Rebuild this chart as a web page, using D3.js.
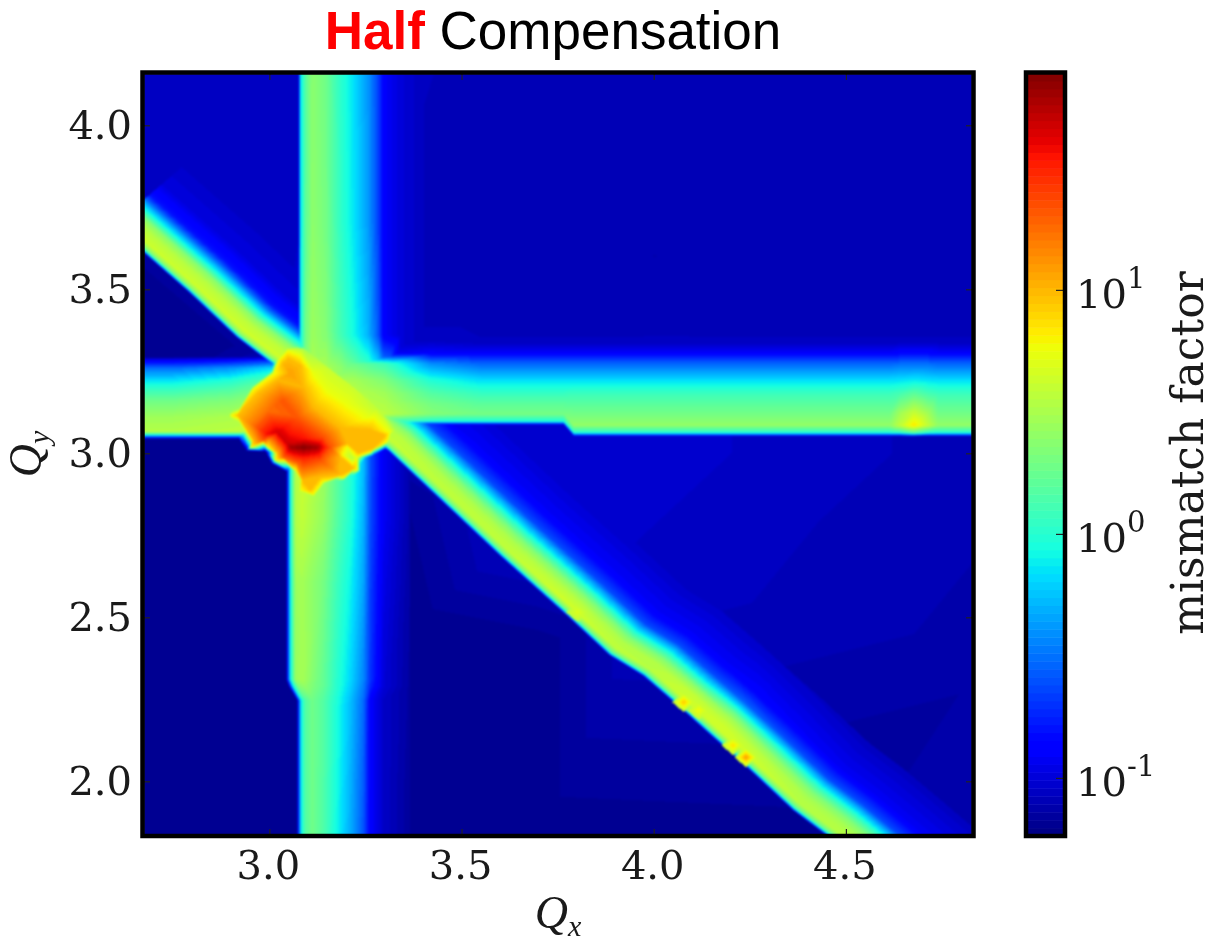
<!DOCTYPE html>
<html><head><meta charset="utf-8">
<style>
html,body{margin:0;padding:0;background:#fff;width:1208px;height:944px;overflow:hidden}
#wrap{position:relative;width:1208px;height:944px}
canvas{position:absolute;left:143px;top:73px;filter:blur(1px)}
svg{position:absolute;left:0;top:0}
</style>
<script src="https://cdn.jsdelivr.net/npm/d3@7/dist/d3.min.js"></script>
</head><body><div id="wrap"><canvas id="field" width="830" height="763"></canvas><svg id="chart" width="1208" height="944"></svg></div>
<script>
// ---------- tick labels and text ----------
const titleParts = ["Half", " Compensation"];
const xTicks = [3.0, 3.5, 4.0, 4.5];
const yTicks = [2.0, 2.5, 3.0, 3.5, 4.0];
const cbTicks = [0.1, 1, 10];
const cbExponents = ["-1", "0", "1"];
const cbLabel = "mismatch factor";
const mismatchRange = [0.0578, 77.4];
const levelCount = 96;

// ---------- mismatch factor ----------
// background scan points: [Qx, Qy, mismatch]
const backgroundPoints = [
[2.6,1.8,.063],[3.0,1.8,.063],[3.3,1.8,.064],[3.7,1.8,.063],[4.43,1.8,.064],
[2.6,2.5,.063],[3.0,2.5,.063],[3.4,2.5,.065],[3.7,2.4,.063],
[2.6,3.03,.064],[3.0,3.0,.064],[3.32,2.9,.065],[2.6,3.55,.063],[2.9,3.25,.063],
[2.6,3.85,.09],[2.6,4.2,.086],[3.05,4.2,.088],[3.05,3.5,.086],[2.85,3.7,.084],
[3.45,4.2,.084],[4.0,4.2,.08],[4.9,4.2,.082],[4.0,3.6,.078],[3.45,3.4,.082],[4.9,3.5,.08],
[3.45,3.0,.098],[4.0,3.0,.094],[4.9,3.0,.08],[4.0,2.6,.088],[4.9,2.4,.075],[4.6,1.8,.078],[4.9,1.8,.072],[3.7,2.8,.096]
];

// vertical band above the crossing
const upperStations = [4.2, 3.7, 3.36, 3.26, 3.1];
const upperKnots = [3.00,3.0755,3.081,3.094,3.112,3.146,3.185,3.224,3.258,3.284,3.297,3.341,3.419];
const upperValues = [
[.085,.09,.7,1.5,2.4,1.9,1.05,.65,.4,.22,.13,.1,.08],
[.085,.09,.72,1.6,2.5,2.0,1.1,.68,.42,.22,.13,.1,.08],
[.085,.095,.8,1.9,2.8,2.3,1.3,.8,.5,.25,.13,.1,.08],
[.085,.1,1.0,2.2,3.2,3.2,2.5,1.7,1.2,.7,.4,.1,.08],
[.085,.1,1.0,2.2,3.6,4.0,3.8,3.4,3.0,2.6,2.2,.1,.08]
];

// vertical band below the crossing
const lowerStations = [3.02, 2.8, 2.6, 2.31, 2.29, 2.247, 2.0, 1.8];
const lowerKnots = [
[2.98,3.044,3.048,3.055,3.068,3.085,3.141,3.177,3.211,3.245,3.263,3.297,3.367],
[2.98,3.044,3.048,3.055,3.068,3.085,3.141,3.177,3.211,3.245,3.263,3.297,3.367],
[2.98,3.044,3.048,3.055,3.068,3.085,3.141,3.177,3.211,3.245,3.263,3.297,3.367],
[2.98,3.044,3.048,3.055,3.068,3.085,3.141,3.177,3.211,3.245,3.263,3.297,3.367],
[2.98,3.050,3.055,3.062,3.075,3.092,3.141,3.177,3.211,3.245,3.263,3.297,3.367],
[2.98,3.072,3.076,3.083,3.094,3.112,3.141,3.177,3.211,3.245,3.263,3.297,3.367],
[2.98,3.072,3.076,3.083,3.094,3.112,3.141,3.177,3.211,3.245,3.263,3.297,3.367],
[2.98,3.072,3.076,3.083,3.094,3.112,3.141,3.177,3.211,3.245,3.263,3.297,3.367]
];
const lowerValues = [
[.06,.06,.2,.9,3.4,4.2,2.8,1.6,1,.55,.25,.12,.075],
[.06,.06,.2,.9,3.3,3.9,2.6,1.5,.95,.5,.24,.12,.075],
[.06,.06,.2,.85,2.8,3,2.0,1.2,.8,.45,.22,.11,.072],
[.06,.06,.2,.8,2.7,3.1,1.7,1.0,.65,.36,.2,.1,.07],
[.06,.06,.2,.8,2.2,2.6,1.7,1.0,.62,.34,.18,.1,.07],
[.06,.06,.2,.8,1.5,1.9,1.5,.9,.55,.3,.13,.09,.07],
[.06,.06,.2,.8,1.5,1.9,1.45,.85,.5,.27,.13,.09,.068],
[.06,.06,.2,.8,1.5,1.9,1.4,.8,.48,.25,.13,.09,.068]
];

// horizontal band, left of the crossing
const leftStations = [2.6, 2.75, 2.9, 3.02, 3.1];
const leftKnots = [3.40,3.295,3.284,3.26,3.223,3.192,3.16,3.11,3.066,3.056,3.05,3.043];
const leftValues = [
[.06,.06,.12,.3,.7,1.2,1.9,2.9,3.4,.9,.25,.06],
[.06,.06,.12,.3,.7,1.2,1.9,2.9,3.4,.9,.25,.06],
[.06,.07,.14,.4,.95,1.5,2.2,3.2,3.7,.9,.25,.06],
[.06,.08,.2,.7,1.6,2.3,3,3.6,3.8,.9,.25,.06],
[.06,.08,.2,.8,1.8,2.6,3.2,3.8,4,.9,.25,.06]
];

// horizontal band, right of the crossing
const rightStations = [3.12,3.22,3.30,3.32,3.42,3.55,3.766,3.792,4.2,4.615,4.64,4.677,4.715,4.74,4.9];
const knotsBeforeStep = [3.42,3.34,3.305,3.274,3.223,3.183,3.15,3.12,3.097,3.091,3.085,3.07];
const knotsAfterStep  = [3.42,3.34,3.305,3.274,3.223,3.183,3.125,3.085,3.062,3.056,3.05,3.04];
const rightValues = [
[.08,.09,.6,2.2,3.4,3.9,4.2,4.4,4,3,1,.06],
[.08,.09,.3,1.8,3.0,3.6,3.9,4.2,4,3,1,.06],
[.085,.09,.12,1.2,2.2,2.9,3.3,3.7,1.6,.4,.06,.06],
[.085,.09,.12,1.0,1.9,2.6,3,3.4,1.3,.3,.06,.06],
[.08,.09,.13,.38,.95,1.5,2.0,2.3,.9,.25,.06,.06],
[.08,.085,.13,.28,.68,1.15,1.6,2.0,.9,.25,.06,.06],
[.08,.085,.13,.28,.68,1.15,1.6,2.0,.9,.25,.06,.06],
[.08,.085,.13,.28,.68,1.2,1.9,2.6,.9,.25,.06,.06],
[.08,.085,.13,.28,.68,1.2,1.9,2.6,.9,.25,.06,.06],
[.08,.085,.13,.28,.68,1.2,1.9,2.6,.9,.25,.06,.06],
[.08,.085,.14,.3,.7,1.3,2.8,3.8,1.0,.25,.06,.06],
[.08,.085,.14,.3,.75,1.6,4.0,7.0,1.5,.4,.06,.06],
[.08,.085,.14,.3,.7,1.3,2.8,3.8,1.0,.25,.06,.06],
[.08,.085,.13,.28,.68,1.2,1.9,2.6,.9,.25,.06,.06],
[.08,.085,.13,.28,.68,1.2,1.9,2.6,.9,.25,.06,.06]
];

// diagonal band: stations along Qx-Qy, lower edge in Qx+Qy, offsets from that edge
const diagStations = [-1.1,-.7,-.44,-.3,0,.3,.5,.92,1.27,1.5,1.65,1.84,2.0,2.18,2.45,2.62,2.8,3.4];
const diagEdges = [6.29,6.285,6.272,6.28,6.3,6.32,6.31,6.29,6.282,6.272,6.297,6.296,6.292,6.289,6.277,6.288,6.29,6.29];
const diagOffsets = [-.03,-.004,0,.006,.016,.035,.07,.10,.125,.145,.165,.185,.25,.40];
const diagValues = [
[.055,.06,.3,1.0,2.4,4.3,3.6,2.4,1.0,.55,.28,.16,.105,.085],
[.055,.06,.3,1.0,2.4,4.3,3.6,2.4,1.0,.55,.28,.16,.105,.085],
[.055,.06,.3,1.0,2.4,4.4,3.7,2.4,1.05,.58,.28,.16,.105,.085],
[.055,.06,.3,1.0,2.4,4.4,3.8,2.5,1.1,.6,.29,.16,.105,.085],
[.055,.06,.3,1.0,2.4,4.2,3.8,2.6,1.3,.7,.32,.17,.105,.085],
[.055,.06,.3,1.0,2.3,4.0,3.6,2.5,1.3,.72,.42,.22,.12,.09],
[.055,.06,.25,.85,2.0,3.8,3.4,2.3,1.25,.74,.44,.24,.125,.09],
[.055,.06,.25,.85,2.0,3.9,3.4,2.3,1.25,.74,.44,.24,.125,.09],
[.055,.06,.25,.9,2.2,4.5,3.6,2.4,1.3,.74,.44,.24,.125,.09],
[.055,.06,.25,.85,1.9,3.8,3.4,2.3,1.25,.74,.44,.24,.125,.09],
[.055,.06,.25,.85,1.9,3.6,3.4,2.3,1.25,.74,.44,.24,.125,.09],
[.055,.06,.25,.9,2.2,4.4,4.0,2.6,1.3,.74,.44,.24,.125,.09],
[.055,.06,.25,.9,2.2,4.4,4.1,3.0,1.9,1.0,.55,.28,.13,.09],
[.055,.06,.25,.9,2.2,4.4,3.7,2.6,1.5,.85,.48,.25,.125,.088],
[.055,.06,.25,.85,1.9,3.6,3.2,2.3,1.35,.8,.46,.24,.12,.085],
[.055,.06,.25,.85,1.9,3.6,3.2,2.3,1.35,.8,.46,.24,.12,.085],
[.055,.06,.25,.85,1.9,3.6,3.2,2.3,1.35,.8,.46,.24,.12,.085],
[.055,.06,.25,.85,1.9,3.6,3.2,2.3,1.35,.8,.46,.24,.12,.085]
];

// small peaks sitting on the diagonal band
const spotQx   = [3.802,4.078,4.117,4.206,4.240];
const spotQy   = [2.515,2.241,2.216,2.110,2.073];
const spotPeak = [5.0,9,6,7.5,13];
const spotBase = [3.6,3.6,3.6,3.6,3.6];

// crossing region: scattered [Qx, Qy, mismatch]
const coreSkirt = [
[2.883,3.116,.06],[2.94,3.008,.06],[2.99,3.005,.06],[3.006,2.968,.06],[3.058,2.936,.06],[3.072,2.875,.06],[3.115,2.855,.06],
[3.15,2.897,.06],[3.2,2.91,.06],[3.245,2.945,.06],[3.215,2.985,3.5],[3.27,2.988,.06],[3.325,3.025,.06],[3.335,3.07,2.6],
[2.945,3.21,.06],[3.0,3.26,.06],[3.01,3.295,.06],[3.04,3.33,1.5],[3.09,3.32,3.0],[3.15,3.26,4.2],[3.22,3.2,4.2],[3.28,3.14,3.8]
];
const coreYellow = [
[3.047,3.314,5.5],[3.081,3.299,5.5],[3.115,3.244,5.5],[3.151,3.192,5.5],[3.203,3.152,5.5],[3.255,3.110,5.5],[3.315,3.064,5.5],
[3.307,3.034,5.5],[3.263,3.003,5.5],[3.229,2.988,5.5],[3.203,3.018,5.5],[3.193,2.994,5.5],[3.229,2.948,5.5],[3.193,2.924,5.5],
[3.141,2.912,5.5],[3.115,2.872,5.5],[3.081,2.887,5.5],[3.068,2.948,5.5],[3.016,2.979,5.5],[2.997,3.018,5.5],[2.951,3.018,5.5],
[2.898,3.116,5.5],[2.958,3.198,5.5],[3.010,3.244,5.5],[3.023,3.284,5.5]
];
const coreOrange = [
[3.049,3.290,9.5],[3.081,3.268,9.5],[3.089,3.201,10],[3.115,3.140,10],[3.185,3.076,10],[3.263,3.073,9.5],[3.302,3.055,9.5],
[3.271,3.015,9.5],[3.232,3.000,9.5],[3.203,3.030,10],[3.185,2.988,10],[3.219,2.954,9.5],[3.185,2.933,9.5],[3.133,2.927,9.5],
[3.107,2.887,9.5],[3.086,2.918,10],[3.073,2.970,11],[3.021,3.000,10],[2.997,3.034,10],[2.958,3.040,10],[2.917,3.116,9.5],
[2.969,3.183,9.5],[3.021,3.223,10],[3.036,3.274,10]
];
const coreRed = [
[3.036,3.162,21],[3.073,3.110,21],[3.141,3.049,22],[3.159,3.018,22],[3.133,2.979,22],[3.073,2.970,19],[3.036,2.988,19],
[2.984,3.040,21],[2.951,3.091,15],[2.995,3.131,17],[3.055,3.244,12],[3.115,3.201,7.5]
];
const coreDeep = [
[3.021,3.064,46],[2.995,3.058,38],[3.047,3.030,48],[3.055,3.018,62],[3.089,3.018,75],[3.125,3.018,62],[3.089,2.985,32],[3.089,3.045,36]
];

// ---------- scales ----------
const x = d3.scaleLinear().domain([2.6713, 4.8307]).range([143, 973]);
const y = d3.scaleLinear().domain([1.8333, 4.1594]).range([836, 73]);
const cb = d3.scaleLog().domain(mismatchRange).range([836, 73]);
const colorT = d3.scaleLog().domain(mismatchRange).range([0, 1]).clamp(true);

// jet colour map through its anchor stops
const jetR = d3.scaleLinear().domain([0,.35,.66,.89,1]).range([0,0,1,1,.5]);
const jetG = d3.scaleLinear().domain([0,.125,.375,.64,.91,1]).range([0,0,1,1,0,0]);
const jetB = d3.scaleLinear().domain([0,.11,.34,.65,1]).range([.5,1,1,0,0]);
const jetColor = t => [255*jetR(t), 255*jetG(t), 255*jetB(t)];

// ---------- field raster ----------
const W = 830, H = 763;
const buf = new Float32Array(W*H).fill(Math.log10(0.062));
function tri(a, b, c) {
  const den = (b.x-a.x)*(c.y-a.y)-(c.x-a.x)*(b.y-a.y);
  if (Math.abs(den) < 1e-9) return;
  const x0 = Math.max(0, Math.floor(Math.min(a.x,b.x,c.x)-143)), x1 = Math.min(W-1, Math.ceil(Math.max(a.x,b.x,c.x)-143));
  const y0 = Math.max(0, Math.floor(Math.min(a.y,b.y,c.y)-73)), y1 = Math.min(H-1, Math.ceil(Math.max(a.y,b.y,c.y)-73));
  const eps = -1e-4;
  for (let j=y0;j<=y1;j++) for (let i=x0;i<=x1;i++) {
    const px=i+143.5, py=j+73.5;
    const u=((px-a.x)*(c.y-a.y)-(c.x-a.x)*(py-a.y))/den;
    const v=((b.x-a.x)*(py-a.y)-(px-a.x)*(b.y-a.y))/den;
    const w=1-u-v;
    if (u<eps||v<eps||w<eps) continue;
    const val=w*a.v+u*b.v+v*c.v, k=j*W+i;
    if (val>buf[k]) buf[k]=val;
  }
}
const node = (qx,qy,m) => ({x:x(qx), y:y(qy), v:Math.log10(m)});
function strip(sections) {
  for (let s=0;s<sections.length-1;s++) {
    const A=sections[s], B=sections[s+1];
    for (let k=0;k<A.length-1;k++) {
      tri(A[k],A[k+1],B[k]);
      tri(A[k+1],B[k+1],B[k]);
    }
  }
}
function scatter(points) {
  const d = d3.Delaunay.from(points, p=>x(p[0]), p=>y(p[1]));
  const n = points.map(p=>node(p[0],p[1],p[2]));
  for (let t=0;t<d.triangles.length;t+=3) tri(n[d.triangles[t]],n[d.triangles[t+1]],n[d.triangles[t+2]]);
}
scatter(backgroundPoints);
strip(upperStations.map((q,s)=>upperKnots.map((k,i)=>node(k,q,upperValues[s][i]))));
strip(lowerStations.map((q,s)=>lowerKnots[s].map((k,i)=>node(k,q,lowerValues[s][i]))));
strip(leftStations.map((q,s)=>leftKnots.map((k,i)=>node(q,k,leftValues[s][i]))));
strip(rightStations.map((q,s)=>(q<3.77?knotsBeforeStep:knotsAfterStep).map((k,i)=>node(q,k,rightValues[s][i]))));
strip(diagStations.map((d,s)=>diagOffsets.map((o,i)=>{const sum=diagEdges[s]+o;return node((sum+d)/2,(sum-d)/2,diagValues[s][i]);})));
spotQx.forEach((q,i)=>{
  const r=.03, c=node(q,spotQy[i],spotPeak[i]), b=spotBase[i];
  const ring=[node(q-r,spotQy[i],b),node(q,spotQy[i]+r,b),node(q+r,spotQy[i],b),node(q,spotQy[i]-r,b)];
  ring.forEach((p,k)=>tri(c,p,ring[(k+1)%4]));
});
scatter([...coreSkirt,...coreYellow,...coreOrange,...coreRed,...coreDeep]);

const quant = t => Math.min(levelCount-1, Math.floor(t*levelCount));
const palette = d3.range(levelCount).map(l=>jetColor((l+.5)/levelCount));
const ctx = document.getElementById("field").getContext("2d");
const img = ctx.createImageData(W,H);
for (let k=0;k<W*H;k++){
  const c=palette[quant(colorT(Math.pow(10,buf[k])))];
  img.data[k*4]=c[0];img.data[k*4+1]=c[1];img.data[k*4+2]=c[2];img.data[k*4+3]=255;
}
ctx.putImageData(img,0,0);

// ---------- svg: frame, axes, colour bar, text ----------
const svg = d3.select("#chart");
const serif = "'DejaVu Serif', serif";
const title = svg.append("text").attr("x",553).attr("y",49).attr("text-anchor","middle")
  .style("font-family","'Liberation Sans',Arial,sans-serif").style("font-size","53px").attr("xml:space","preserve");
title.append("tspan").text(titleParts[0]).attr("fill","#ff0000").style("font-weight","700");
title.append("tspan").text(titleParts[1]).attr("fill","#000");

function styleAxis(g){
  g.select(".domain").remove();
  g.selectAll("line").attr("stroke","#222").attr("stroke-width",1.2);
  g.selectAll("text").style("font-family",serif).style("font-size","40px").attr("fill","#1a1a1a");
}
const fmt = d3.format(".1f");
svg.append("g").attr("transform","translate(0,836)")
  .call(d3.axisBottom(x).tickValues(xTicks).tickFormat(fmt).tickSize(-7).tickPadding(15)).call(styleAxis)
  .selectAll("text").attr("dx",-1.5);
svg.append("g").attr("transform","translate(0,73)")
  .call(d3.axisTop(x).tickValues(xTicks).tickFormat("").tickSize(-7)).call(styleAxis);
svg.append("g").attr("transform","translate(143,0)")
  .call(d3.axisLeft(y).tickValues(yTicks).tickFormat(fmt).tickSize(-7).tickPadding(11)).call(styleAxis);
svg.append("g").attr("transform","translate(973,0)")
  .call(d3.axisRight(y).tickValues(yTicks).tickFormat("").tickSize(-7)).call(styleAxis);
svg.append("rect").attr("x",142.5).attr("y",72.5).attr("width",831).attr("height",763.5)
  .attr("fill","none").attr("stroke","#000").attr("stroke-width",4.5);

// colour bar
const cbX = 1026, cbW = 39;
const levelEdge = l => Math.pow(10, Math.log10(mismatchRange[0]) + (Math.log10(mismatchRange[1])-Math.log10(mismatchRange[0]))*l/levelCount);
svg.append("g").selectAll("rect").data(d3.range(levelCount)).join("rect")
  .attr("x",cbX).attr("width",cbW)
  .attr("y",l=>cb(levelEdge(l+1))).attr("height",l=>cb(levelEdge(l))-cb(levelEdge(l+1))+.5)
  .attr("fill",l=>{const c=palette[l];return `rgb(${c[0]},${c[1]},${c[2]})`;});
svg.append("g").attr("transform",`translate(${cbX+cbW},0)`)
  .call(d3.axisRight(cb).tickValues(cbTicks).tickFormat("").tickSize(-9)).call(styleAxis);
svg.append("rect").attr("x",cbX).attr("y",72.5).attr("width",cbW).attr("height",763.5)
  .attr("fill","none").attr("stroke","#000").attr("stroke-width",4.5);
cbTicks.forEach((t,i)=>{
  const tx = svg.append("text").attr("x",1076).attr("y",cb(t)+18).style("font-family",serif).style("font-size","40px").attr("fill","#1a1a1a");
  tx.append("tspan").text("10");
  tx.append("tspan").text(cbExponents[i]).attr("dy",-20).style("font-size","29px");
});
svg.append("text").attr("transform","translate(1203,453) rotate(-90)").attr("text-anchor","middle")
  .style("font-family",serif).style("font-size","44px").attr("fill","#1a1a1a").text(cbLabel);

function mathLabel(sel, sub){
  sel.style("font-family","'Liberation Serif',serif").style("font-style","italic").attr("fill","#1a1a1a");
  sel.append("tspan").text("Q").style("font-size","46px");
  sel.append("tspan").text(sub).attr("dy",8).style("font-size","30px");
}
svg.append("text").attr("x",558).attr("y",928).attr("text-anchor","middle").call(mathLabel,"x");
svg.append("text").attr("transform","translate(41,454) rotate(-90)").attr("text-anchor","middle").call(mathLabel,"y");
</script></body></html>
